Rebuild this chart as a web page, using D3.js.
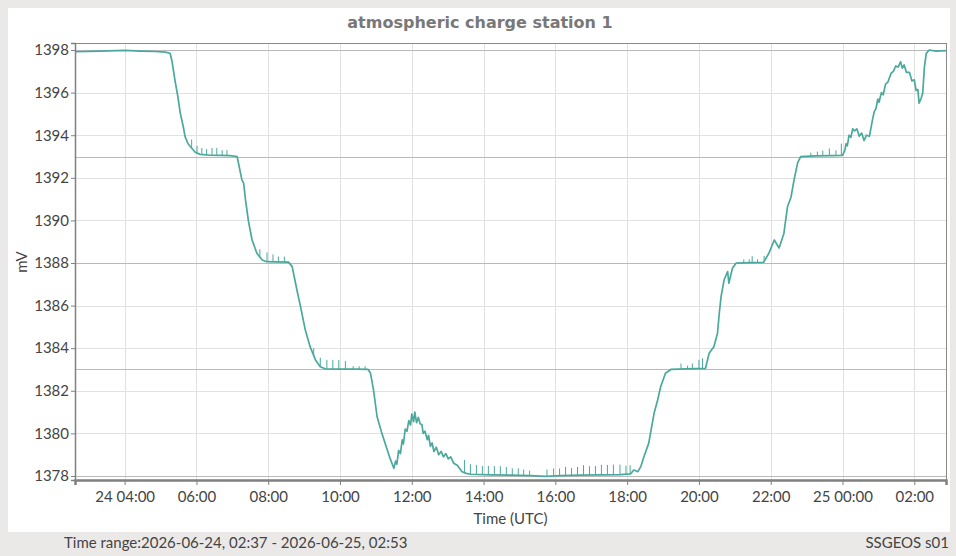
<!DOCTYPE html>
<meta charset="utf-8">
<style>
  body { margin: 0; background: #ebe9e7; }
  svg { display: block; }
  .tick text { font: 15px Lato, "Open Sans", sans-serif; fill: #444; }
  .axis path, .axis line { stroke: #808080; }
  .grid line { stroke: #e1e1e1; shape-rendering: crispEdges; }
  .ref line { stroke: #b9b9b9; shape-rendering: crispEdges; }
  .line { fill: none; stroke: #4aa99c; stroke-width: 1.7px; stroke-linejoin: round; }
  .spike { stroke: #4aa99c; stroke-width: 1px; }
  .label { font: 15px Lato, "Open Sans", sans-serif; fill: #444; }
</style>
<body>
<script src="https://cdn.jsdelivr.net/npm/d3@7"></script>
<script>

  var startDay = "2026-06-24";

  var times = [
    "02:37","03:19","04:01","04:26","04:51","05:08","05:16","05:19","05:24","05:29",
    "05:33","05:38","05:41","05:46","05:50","05:58","06:06","06:23","06:40","06:56",
    "07:08","07:16","07:19","07:22","07:27","07:33","07:41","07:50","07:57","08:12",
    "08:34","08:40","08:48","08:54","09:02","09:10","09:19","09:27","09:35","10:01",
    "10:26","10:47","10:51","10:56","11:02","11:10","11:19","11:24",
    "11:30","11:33","11:35","11:38","11:41","11:44","11:46","11:49","11:52","11:55",
    "11:58","12:00","12:03","12:05","12:08","12:11","12:14","12:17","12:19","12:22",
    "12:26","12:28","12:31","12:34","12:37","12:41","12:45","12:49","12:53","12:57",
    "13:01","13:05","13:10","13:16",
    "13:24","13:31","13:38","14:12","14:45","15:18","15:44","16:09","16:42","17:16",
    "17:49","18:06","18:11","18:18","18:23","18:28","18:36","18:39","18:45","18:51",
    "18:56","19:04","19:13","19:38","20:11","20:17","20:25","20:31","20:34","20:37",
    "20:42","20:48","20:50","20:56","21:02","21:27","21:48","21:57","22:06","22:14",
    "22:22","22:28","22:34","22:39","22:45","22:50","23:15","23:41",
    "00:00","00:04","00:06","00:08","00:11","00:14","00:17","00:20","00:24","00:28",
    "00:32","00:36","00:40","00:45","00:48","00:50","00:53","00:56","00:59","01:01",
    "01:05","01:08","01:12","01:16","01:21","01:25","01:29","01:33","01:37","01:40",
    "01:43","01:47","01:52","01:56","02:00","02:03","02:06","02:08","02:11","02:14",
    "02:17","02:20","02:25","02:36","02:53"];

  var values = [
    1397.92,1397.95,1397.98,1397.95,1397.93,1397.9,1397.85,1397.5,1396.6,1395.8,
    1395.04,1394.4,1393.93,1393.6,1393.46,1393.2,1393.1,1393.06,1393.05,1393.04,
    1393.0,1391.9,1391.74,1390.96,1389.95,1389.08,1388.46,1388.14,1388.06,1388.05,
    1388.04,1387.83,1386.73,1385.95,1384.85,1384.07,1383.45,1383.13,1383.03,1383.02,
    1383.02,1383.0,1382.82,1382.04,1380.78,1380.0,1379.22,1378.8,
    1378.36,1378.7,1378.55,1379.2,1379.05,1379.7,1379.5,1380.2,1380.1,1380.6,
    1380.4,1380.9,1380.55,1381.0,1380.5,1380.75,1380.45,1380.4,1380.0,1380.1,
    1379.7,1379.9,1379.4,1379.55,1379.15,1379.35,1379.0,1379.15,1378.9,1379.05,
    1378.8,1378.9,1378.6,1378.5,
    1378.2,1378.12,1378.08,1378.05,1378.04,1378.02,1377.98,1378.02,1378.04,1378.05,
    1378.06,1378.1,1378.28,1378.2,1378.45,1378.9,1379.53,1380.0,1380.94,1381.57,
    1382.19,1382.82,1383.0,1383.03,1383.05,1383.76,1384.07,1384.7,1385.64,1386.42,
    1387.2,1387.6,1387.05,1387.75,1387.99,1388.02,1388.03,1388.46,1389.08,1388.7,
    1389.39,1390.64,1391.1,1391.9,1392.7,1392.99,1393.03,1393.04,
    1393.05,1393.3,1393.6,1393.5,1394.0,1393.9,1394.3,1394.2,1394.3,1393.95,
    1394.1,1393.75,1394.0,1393.95,1394.4,1394.71,1395.1,1395.26,1395.7,1395.55,
    1396.0,1395.9,1396.4,1396.5,1396.9,1397.0,1397.25,1397.2,1397.45,1397.15,
    1397.3,1396.95,1396.95,1396.55,1396.6,1396.1,1396.15,1395.5,1395.7,1395.97,
    1397.22,1397.84,1398.0,1397.95,1397.97];

  // short upward spikes on the plateaus (time, top value)
  var spikeTimes = ["05:52","06:01","06:09","06:17","06:26","06:34","06:43","06:51",
    "07:46","07:58","08:08","08:17","08:27",
    "09:16","09:27","09:38","09:48","09:58","10:09","10:22","10:32","10:42",
    "13:28","13:38","13:48","13:58","14:08","14:18","14:28","14:38","14:48","14:58","15:07","15:17",
    "15:46","15:57","16:07","16:17","16:27","16:37","16:47","16:57","17:07","17:17","17:27","17:37","17:48","17:58","18:05",
    "19:30","19:41","19:49","20:00","20:06",
    "21:15","21:24","21:29","21:38","21:49",
    "23:07","23:18","23:27","23:38","23:49","23:58"];
  var spikeTops = [1393.8,1393.5,1393.4,1393.35,1393.4,1393.4,1393.3,1393.3,
    1388.65,1388.5,1388.4,1388.3,1388.3,
    1384.0,1383.55,1383.45,1383.45,1383.45,1383.4,1383.15,1383.15,1383.15,
    1378.75,1378.55,1378.52,1378.47,1378.47,1378.46,1378.46,1378.42,1378.36,1378.36,1378.3,1378.25,
    1378.3,1378.35,1378.35,1378.42,1378.37,1378.42,1378.51,1378.46,1378.47,1378.52,1378.52,1378.53,1378.53,1378.48,1378.5,
    1383.28,1383.18,1383.28,1383.45,1383.52,
    1388.17,1388.17,1388.32,1388.18,1388.33,
    1393.18,1393.23,1393.28,1393.38,1393.29,1393.6];

  var yTicks = [1378,1380,1382,1384,1386,1388,1390,1392,1394,1396,1398];
  var refLines = [1378,1383,1388,1393,1398];

  var parseTime = d3.utcParse("%Y-%m-%d %H:%M");
  var day0 = parseTime(startDay + " 00:00");

  // times roll over to the next day when the clock goes back
  function toDates(list) {
    var prev = -1, offset = 0;
    return list.map(function(s) {
      var p = s.split(":"), m = +p[0] * 60 + +p[1];
      if (m < prev) offset += 1440;
      prev = m;
      return new Date(day0.getTime() + (m + offset) * 60000);
    });
  }

  var dates = toDates(times);
  var data = dates.map(function(d, i) { return { t: d, v: values[i] }; });
  var spikeDates = toDates(spikeTimes);
  if (times.length !== values.length) console.log("length mismatch", times.length, values.length);

  var width = 956, height = 556;
  var plot = { left: 75, right: 946, top: 43, bottom: 480 };

  var x = d3.scaleUtc()
      .domain([parseTime("2026-06-24 02:37"), parseTime("2026-06-25 02:53")])
      .range([plot.left, plot.right]);

  var y = d3.scaleLinear()
      .domain([1377.81, 1398.33])
      .range([plot.bottom, plot.top]);

  var svg = d3.select("body").append("svg")
      .attr("width", width)
      .attr("height", height);

  svg.append("rect")
      .attr("x", 8).attr("y", 8)
      .attr("width", 942).attr("height", 524)
      .attr("fill", "#fff");

  svg.append("text")
      .attr("x", 480).attr("y", 28)
      .attr("text-anchor", "middle")
      .style("font", "bold 16px 'DejaVu Sans', sans-serif")
      .style("fill", "#787878")
      .text("atmospheric charge station 1");

  var xTicks = x.ticks(d3.utcHour.every(2));

  // grid
  svg.append("g").attr("class", "grid")
    .selectAll("line").data(yTicks).enter().append("line")
      .attr("x1", plot.left).attr("x2", plot.right)
      .attr("y1", function(d) { return Math.round(y(d)) + 0.5; })
      .attr("y2", function(d) { return Math.round(y(d)) + 0.5; });

  svg.append("g").attr("class", "grid")
    .selectAll("line").data(xTicks).enter().append("line")
      .attr("y1", plot.top).attr("y2", plot.bottom)
      .attr("x1", function(d) { return Math.round(x(d)) + 0.5; })
      .attr("x2", function(d) { return Math.round(x(d)) + 0.5; });

  svg.append("g").attr("class", "ref")
    .selectAll("line").data(refLines).enter().append("line")
      .attr("x1", plot.left).attr("x2", plot.right)
      .attr("y1", function(d) { return Math.round(y(d)) + 0.5; })
      .attr("y2", function(d) { return Math.round(y(d)) + 0.5; });

  // frame
  svg.append("rect")
      .attr("x", plot.left + 0.5).attr("y", plot.top + 0.5)
      .attr("width", plot.right - plot.left).attr("height", plot.bottom - plot.top)
      .attr("fill", "none")
      .attr("stroke", "#8a8a8a");

  // series
  var line = d3.line()
      .x(function(d) { return x(d.t); })
      .y(function(d) { return y(d.v); });

  svg.append("path")
      .datum(data)
      .attr("class", "line")
      .attr("d", line);

  var bisect = d3.bisector(function(d) { return d.t; }).left;
  function baseAt(t) {
    var i = bisect(data, t, 1), a = data[i - 1], b = data[i];
    var k = (t - a.t) / (b.t - a.t);
    return a.v + (b.v - a.v) * k;
  }

  svg.append("g")
    .selectAll("line").data(spikeDates).enter().append("line")
      .attr("class", "spike")
      .attr("x1", function(d) { return x(d); })
      .attr("x2", function(d) { return x(d); })
      .attr("y1", function(d) { return y(baseAt(d)); })
      .attr("y2", function(d, i) { return y(spikeTops[i]); });

  // axes
  var fmtDay = d3.utcFormat("%d %H:%M"), fmtHour = d3.utcFormat("%H:%M");

  var xAxis = d3.axisBottom(x)
      .tickValues(xTicks)
      .tickSize(5)
      .tickPadding(6)
      .tickFormat(function(d, i) {
        return (i === 0 || d.getUTCHours() === 0) ? fmtDay(d) : fmtHour(d);
      });

  var yAxis = d3.axisLeft(y)
      .tickValues(yTicks)
      .tickSize(4)
      .tickPadding(2)
      .tickFormat(d3.format("d"));

  var gx = svg.append("g")
      .attr("class", "axis")
      .attr("transform", "translate(0," + plot.bottom + ")")
      .call(xAxis);
  gx.select(".domain").attr("stroke", "#7a7a7a").attr("stroke-width", 2.5);

  var gy = svg.append("g")
      .attr("class", "axis")
      .attr("transform", "translate(" + plot.left + ",0)")
      .call(yAxis);
  gy.select(".domain").attr("stroke", "#7a7a7a").attr("stroke-width", 1.5);

  svg.append("text")
      .attr("class", "label")
      .attr("transform", "translate(27,262) rotate(-90)")
      .attr("text-anchor", "middle")
      .text("mV");

  svg.append("text")
      .attr("class", "label")
      .attr("x", (plot.left + plot.right) / 2).attr("y", 524)
      .attr("text-anchor", "middle")
      .text("Time (UTC)");

  svg.append("text")
      .attr("class", "label")
      .attr("x", 64).attr("y", 548)
      .text("Time range:2026-06-24, 02:37 - 2026-06-25, 02:53");

  svg.append("text")
      .attr("class", "label")
      .attr("x", 949).attr("y", 548)
      .attr("text-anchor", "end")
      .text("SSGEOS s01");

</script>
